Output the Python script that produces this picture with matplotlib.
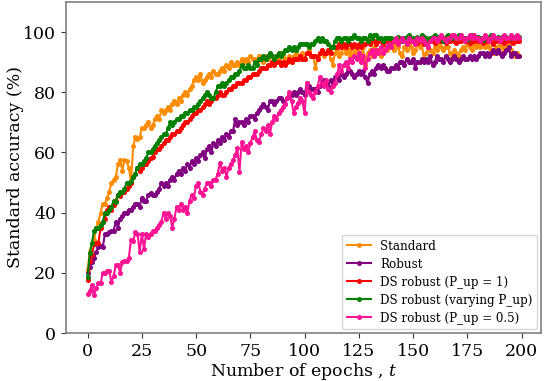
import matplotlib
matplotlib.use("Agg")
import matplotlib.pyplot as plt
import numpy as np

plt.rcParams['font.family'] = ['DejaVu Serif']
plt.rcParams['mathtext.fontset'] = 'dejavuserif'

standard = [
    21, 27, 30, 31, 35, 37, 40, 43, 43, 45,
    47, 50, 51, 52, 56, 57.5, 54, 57.5, 57, 55,
    50, 62, 65, 64.5, 65, 68, 68, 69, 70, 68,
    69, 71, 72, 71, 74, 73, 74, 75, 74, 76,
    77, 76, 78, 77, 79, 80, 79, 81, 82, 84,
    85, 84, 86, 83, 84, 85, 86, 85, 87, 86,
    86, 87, 88, 87, 89, 88, 90, 89, 89, 90,
    89, 91, 90, 91, 90, 92, 91, 91, 90, 92,
    91, 90, 92, 91, 93, 92, 90, 92, 91, 93,
    92, 91, 90, 92, 90, 92, 93, 91, 92, 93,
    91, 93, 94, 92, 92, 88, 92, 93, 94, 92,
    93, 94, 91, 89, 93, 94, 92, 93, 95, 93,
    94, 92, 95, 93, 94, 92, 93, 95, 89, 93,
    94, 92, 95, 93, 94, 92, 93, 95, 94, 95,
    96, 94, 96, 95, 93, 92, 95, 94, 96, 95,
    93, 94, 96, 95, 96, 91, 93, 95, 94, 93,
    95, 94, 96, 95, 94, 95, 95, 93, 91, 94,
    93, 92, 94, 95, 94, 96, 95, 94, 96, 95,
    96, 95, 97, 95, 96, 95, 94, 93, 95, 94,
    96, 95, 94, 95, 96, 94, 93, 92, 93, 92,
]

robust = [
    20, 22, 23.6, 25, 27, 28.6, 29, 28.5, 33, 33,
    33.5, 34, 34, 37, 35, 38, 39, 40, 40, 41,
    41, 42, 43, 43, 42, 45, 44, 44, 46, 46.5,
    46, 46, 47, 48, 50, 49, 50, 49, 51, 52,
    51, 53, 54, 53, 55, 54, 56, 55, 57, 56,
    58, 57, 59, 60, 58, 61, 62, 60, 63, 62,
    64, 63, 65, 64, 66, 65, 67, 67, 71, 69,
    70, 70, 69, 71, 70, 72, 72, 71, 73, 74,
    75, 76, 75, 74, 77, 77, 76, 77, 78, 78,
    77, 76, 78, 79, 79, 80, 79, 80, 81, 80,
    79, 83, 82, 81, 81, 81, 80, 82, 83, 84,
    83, 82, 84, 83, 85, 85, 84, 86, 85, 86,
    87, 87, 86, 85, 86, 87, 86, 87, 85, 83,
    86, 87, 86, 88, 89, 88, 89, 88, 87, 87,
    88, 88, 89, 88, 90, 90, 89, 91, 90, 90,
    91, 88, 90, 90, 91, 90, 91, 90, 92, 89,
    90, 92, 91, 91, 90, 92, 91, 90, 91, 92,
    91, 90, 91, 92, 91, 91, 92, 91, 92, 91,
    92, 93, 93, 92, 93, 92, 93, 94, 93, 94,
    93, 92, 93, 94, 95, 92, 93, 93, 92, 92,
]

ds_pup1 = [
    17.6, 24, 26, 29.5, 30, 30, 35, 37, 38, 41,
    42, 41, 42.5, 44, 46, 45.5, 47, 47, 48, 49,
    50, 52, 53, 55, 54, 55, 56, 56, 57, 58,
    58.5, 60, 61, 61, 62, 63, 64, 64, 65, 66,
    66, 67, 67, 68, 69, 70, 70, 71, 72, 73,
    73, 74, 74, 75, 76, 77, 76, 77, 78, 78,
    79, 80, 79, 79, 80, 81, 81, 82, 82, 83,
    83, 83, 84, 84, 85, 85, 86, 86, 86, 87,
    88, 88, 88, 89, 89, 90, 89, 90, 90, 89,
    90, 89, 90, 91, 90, 91, 91, 91, 92, 91,
    91, 93, 93, 92, 92, 92, 91, 93, 94, 93,
    93, 94, 93, 95, 95, 95, 96, 95, 96, 95,
    96, 96, 95, 96, 95, 96, 95, 96, 96, 97,
    96, 97, 97, 96, 97, 97, 96, 97, 97, 97,
    96.5, 97, 97, 96.5, 97, 97.5, 97, 96.5, 97, 97,
    97.5, 97, 96.5, 97, 97, 96, 97, 97.5, 97, 97,
    96.5, 97, 97.5, 97, 97, 96.5, 97, 97, 97.5, 97,
    96.5, 97, 97, 97.5, 97, 97, 96.5, 97, 97, 97.5,
    97, 97, 96.5, 97, 97, 97.5, 97, 96, 97, 97.5,
    97, 97, 96.5, 97, 97.5, 97, 96.5, 97, 97, 97,
]

ds_varying = [
    18.6, 26.5, 30, 34, 35, 35, 36, 37, 40, 40,
    41, 42, 44, 43.5, 46, 47, 47, 48, 50, 50,
    50.5, 52, 53, 55, 56, 56, 57, 58, 60, 60,
    61, 62, 63, 64, 65, 66, 66, 68, 70, 69,
    70, 71, 71, 72, 72, 73, 73, 74, 74, 75,
    75, 76, 77, 78, 79, 80, 79, 78, 78, 80,
    82, 82, 83, 82, 83, 84, 85, 85, 86, 86,
    87, 89, 88, 88, 89, 88, 88, 90, 89, 91,
    91, 92, 91, 92, 93, 92, 91, 92, 93, 92,
    93, 94, 94, 95, 94, 95, 94, 95, 96, 96,
    96, 96, 95, 96, 96, 97, 98, 97, 98, 97,
    97, 96, 95, 95, 97, 98, 98, 97, 98, 98,
    97, 98, 98, 99, 98, 98, 97, 98, 98, 97,
    99, 98, 99, 99, 98, 98, 97, 98, 98, 98,
    98, 97.5, 98, 98.5, 98, 97, 98, 98.5, 99, 98,
    98, 97.5, 98.5, 98, 99, 98.5, 98, 97.5, 98, 98.5,
    99, 98, 98.5, 98, 97, 98.5, 99, 98.5, 98, 98.5,
    98, 99, 98.5, 98, 98, 97.5, 98.5, 99, 98.5, 98,
    98.5, 98, 97.5, 98, 98.5, 98, 99, 98.5, 98, 98.5,
    98, 98.5, 98, 98.5, 98, 98, 98.5, 98, 98.5, 98.5,
]

ds_pup05 = [
    13, 14, 16, 12.5, 15, 16.5, 16.5, 20, 20, 20.5,
    20.5, 17, 19, 22.5, 22.5, 20, 23.5, 24, 24, 25,
    31, 30.5, 33.5, 33, 27, 33, 28, 33, 32, 33,
    34, 34, 35, 36, 37, 40, 38, 40, 39, 35,
    38, 42, 41, 43, 41, 42, 40, 44, 46, 45,
    49, 50, 47, 46, 48, 50, 50, 49, 51, 51,
    53, 56.5, 54, 55, 52, 55, 56, 57.5, 59, 61.5,
    53.5, 63.5, 61, 62, 60, 63, 65, 67, 64, 63.5,
    66, 68, 67, 69, 66, 70, 72, 71, 73, 74,
    75, 76, 78, 80, 77, 73, 75, 76.5, 78, 77,
    73, 83, 80, 79, 78, 80, 82, 85, 83, 82,
    84, 81, 80, 82, 83, 86, 89, 87, 89, 90,
    88, 91, 90, 92, 91, 93, 90, 92, 88, 91,
    93, 94, 92, 94, 93, 95, 93, 94, 95, 96,
    95, 97, 98, 96, 97, 98, 97, 96, 98, 97,
    97, 96, 98, 97, 98, 97, 96, 95, 97, 98,
    98, 97, 98, 99, 98, 97, 98, 98, 99, 99,
    98, 98, 99, 98, 97, 98, 99, 98, 99, 98,
    98, 97, 98, 99, 98, 97, 98, 99, 98, 98,
    97, 98, 99, 98, 98, 99, 98, 98, 99, 98,
]

labels = ["Standard", "Robust", "DS robust (P_up = 1)",
          "DS robust (varying P_up)", "DS robust (P_up = 0.5)"]
colors = ["darkorange", "purple", "red", "green", "deeppink"]
series = [standard, robust, ds_pup1, ds_varying, ds_pup05]

fig = plt.figure(figsize=(5.45, 3.81), dpi=100)
ax = fig.add_axes([66/545, 48/381, 475/545, 331/381])

for vals, lab, col in zip(series, labels, colors):
    ep = np.arange(len(vals))
    ax.plot(ep, vals, color=col, label=lab, marker='o', markersize=2.6,
            linewidth=1.5)

ax.set_ylim(0, 110)
ax.set_yticks([0, 20, 40, 60, 80, 100])
ax.set_xticks([0, 25, 50, 75, 100, 125, 150, 175, 200])
ax.tick_params(labelsize=12.5, color='#333333')
for s in ax.spines.values():
    s.set_color('grey')
    s.set_linewidth(1.2)
ax.set_xlabel("Number of epochs , $t$", fontsize=12.5, labelpad=1)
ax.set_ylabel("Standard accuracy (%)", fontsize=12.5, labelpad=-0.5)
ax.legend(loc='lower right', fontsize=8.6, labelspacing=0.42,
          borderaxespad=0.3)

fig.savefig("out.png", dpi=100)
